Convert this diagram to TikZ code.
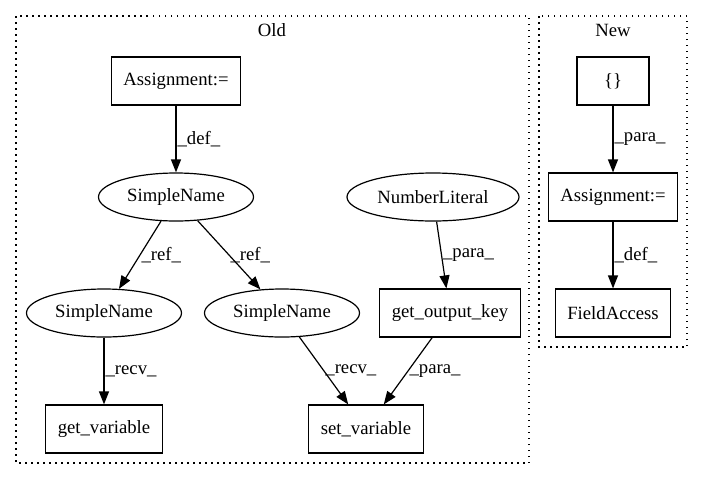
\documentclass[tikz,border=0pt]{standalone}
\usepackage{fontspec}
\setmainfont{Liberation Serif}
\usetikzlibrary{positioning,arrows.meta,shapes.geometric}

\begin{document}
\begin{tikzpicture}[x=1pt,y=-1pt,on grid]
  \newdimen\dist
  \dist=116pt

  \tikzstyle{astBox} = [
    % The shape:
    rectangle, minimum height=48pt, minimum width=72pt, inner xsep=12pt,
    % The border:
    draw=black, line width=1.2pt,
    % Font:
    font=\fontsize{18.7}{22}\selectfont
  ];
  \tikzstyle{astName} = [
    % The shape:
    ellipse, minimum height=48pt, minimum width=155pt, inner sep=0pt,
    % The border:
    draw=black, line width=1.2pt,
    % Font:
    font=\fontsize{18.7}{22}\selectfont
  ];
  \tikzstyle{cluster} = [
    draw=black, line width=1.2pt,
    dash pattern=on 1.5pt off 4.5pt
  ];
  \tikzstyle{clusterLabel} = [
    % Just text!
    font=\fontsize{18.7}{22}\selectfont
  ];
  \tikzstyle{edgeLabel} = [
    % Just text!
    anchor=west, inner sep=1pt,
    font=\fontsize{18.7}{22}\selectfont
  ];
  \tikzstyle{flow} = [
    draw = black,
    line width=1.2pt,
    -{Triangle[length=13pt,width=10pt]}
  ];

  \useasboundingbox (0,0) rectangle (703,480);

  % clusters
  \draw [cluster] (16,16) rectangle (529,463);
  \node [clusterLabel] (oldLabel) at (272,30) {Old};
  \draw [cluster] (539,16) rectangle (687,347);
  \node [clusterLabel] (newLabel) at (613,30) {New};

  % Old
  \node [astBox] (oldAssign) at (176,81) {Assignment:=};
  \node [astName, below = \dist of oldAssign] (nameTop) {SimpleName};
  \node [astName, below left = \dist and 72pt of nameTop] (nameLeft) {SimpleName};
  \node [astName, below right = \dist and 106pt of nameTop] (nameMid) {SimpleName};
  \node [astName, minimum width=172pt, right = 257pt of nameTop] (numLit) {NumberLiteral};
  \node [astBox, below right = \dist and 17pt of numLit] (getKey) {get\_output\_key};
  \node [astBox, below = \dist of nameLeft] (getVar) {get\_variable};
  \node [astBox, below right = \dist and 84pt of nameMid] (setVar) {set\_variable};

  % New
  \node [astBox] (braces) at (613,81) {\{\}};
  \node [astBox, below = \dist of braces] (newAssign) {Assignment:=};
  \node [astBox, below = \dist of newAssign] (fieldAcc) {FieldAccess};

  \path [flow] (oldAssign) to node[edgeLabel]{\_def\_} (nameTop);
  \path [flow] (nameTop) to node[edgeLabel]{\_ref\_} (nameLeft);
  \path [flow] (nameTop) to node[edgeLabel]{\_ref\_} (nameMid);
  \path [flow] (nameLeft) to node[edgeLabel]{\_recv\_} (getVar);
  \path [flow] (nameMid) to node[edgeLabel]{\_recv\_} (setVar);
  \path [flow] (numLit) to node[edgeLabel]{\_para\_} (getKey);
  \path [flow] (getKey) to node[edgeLabel]{\_para\_} (setVar);

  \path [flow] (braces) to node[edgeLabel]{\_para\_} (newAssign);
  \path [flow] (newAssign) to node[edgeLabel]{\_def\_} (fieldAcc);
\end{tikzpicture}
\end{document}
